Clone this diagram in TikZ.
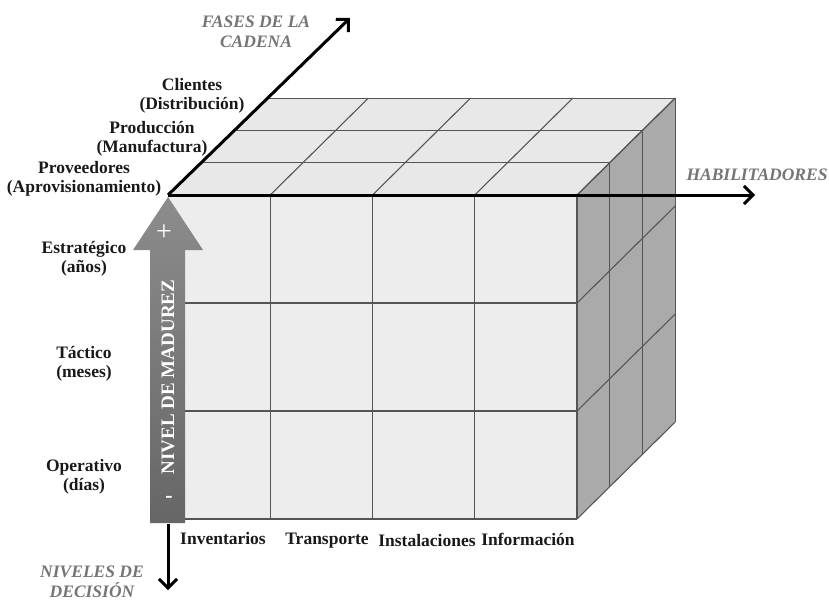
\documentclass[tikz,border=0pt]{standalone}
\usepackage{fontspec}
\setmainfont{Liberation Serif}
\usetikzlibrary{arrows.meta,calc}
\definecolor{frontface}{HTML}{EDEDED}
\definecolor{topface}{HTML}{E8E8E8}
\definecolor{sideface}{HTML}{AAAAAA}
\definecolor{gridcol}{HTML}{555555}
\definecolor{axiscol}{HTML}{757575}
\begin{document}
\begin{tikzpicture}[x=1pt,y=-1pt,
  gridline/.style={draw=gridcol, line width=1.1pt},
  axisarrow/.style={line width=3pt, -{Straight Barb[length=9pt,width=18pt]}},
  lvl/.style={font=\fontsize{17.5}{19}\selectfont\bfseries, align=center, text=black!90, inner sep=0pt},
  axlabel/.style={font=\fontsize{17.5}{20}\selectfont\bfseries\itshape, text=axiscol, align=center, inner sep=0pt}]
\useasboundingbox (0,0) rectangle (829,600);

% cube faces (front 4x3 grid, depth of three layers)
\fill[topface] (168,195) -- (577,195) -- (675,98) -- (266,98) -- cycle;
\fill[sideface] (577,195) -- (675,98) -- (675,422) -- (577,519) -- cycle;
\fill[frontface] (168,195) rectangle (577,519);

% top face grid
\foreach \k in {1,2,3}
  \draw[gridline] (168+32.7*\k,195-32.3*\k) -- (577+32.7*\k,195-32.3*\k);
\foreach \x in {270.25,372.5,474.75,577}
  \draw[gridline] (\x,195) -- (\x+98.1,98.1);

% side face grid
\foreach \k in {0,1,2,3}
  \draw[gridline] (577+32.7*\k,195-32.3*\k) -- (577+32.7*\k,519-32.3*\k);
\foreach \y in {195,303,411,519}
  \draw[gridline] (577,\y) -- (675.1,\y-96.9);

% front face grid
\foreach \x in {270.25,372.5,474.75}
  \draw[gridline] (\x,195) -- (\x,519);
\foreach \y in {303,411,519}
  \draw[gridline] (168,\y) -- (577,\y);

% maturity arrow
\shade[top color=black!45, bottom color=black!60]
  (150,523) -- (150,250) -- (133,250) -- (168,197) -- (203,250) -- (185,250) -- (185,523) -- cycle;
\node[rotate=90, font=\fontsize{19}{19}\selectfont\bfseries, text=white, inner sep=0pt] (madurez) at (168,377) {NIVEL DE MADUREZ};
\node[font=\fontsize{28}{28}\selectfont, text=white, inner sep=0pt] (mas) at (164,233) {+};
\node[font=\fontsize{22}{22}\selectfont\bfseries, text=white, inner sep=0pt] (menos) at (169,499) {-};

% axes
\coordinate (O) at (168,195);
\coordinate (Hend) at (755,195);
\coordinate (Fend) at (350,18);
\coordinate (Dstart) at (168,524);
\coordinate (Dend) at (168,590);
\draw[axisarrow] (O) -- (Hend);
\draw[axisarrow] (O) -- (Fend);
\draw[axisarrow] (Dstart) -- (Dend);

\node[axlabel] (fases) at (256,32) {FASES DE LA\\CADENA};
\node[axlabel] (habil) at (757,175) {HABILITADORES};
\node[axlabel] (niveles) at (92,582) {NIVELES DE\\DECISIÓN};

% chain phases
\node[lvl] (clientes) at (192,96) {Clientes\\(Distribución)};
\node[lvl] (produccion) at (152,139) {Producción\\(Manufactura)};
\node[lvl] (proveedores) at (84,179) {Proveedores\\(Aprovisionamiento)};

% decision levels
\node[lvl] (estrategico) at (84,259) {Estratégico\\(años)};
\node[lvl] (tactico) at (84,364) {Táctico\\(meses)};
\node[lvl] (operativo) at (84,477) {Operativo\\(días)};

% enablers
\node[lvl] (inventarios) at (223,539) {Inventarios};
\node[lvl] (transporte) at (327,541) {Transporte};
\node[lvl] (instalaciones) at (427,541) {Instalaciones};
\node[lvl] (informacion) at (528,539) {Información};
\end{tikzpicture}
\end{document}
